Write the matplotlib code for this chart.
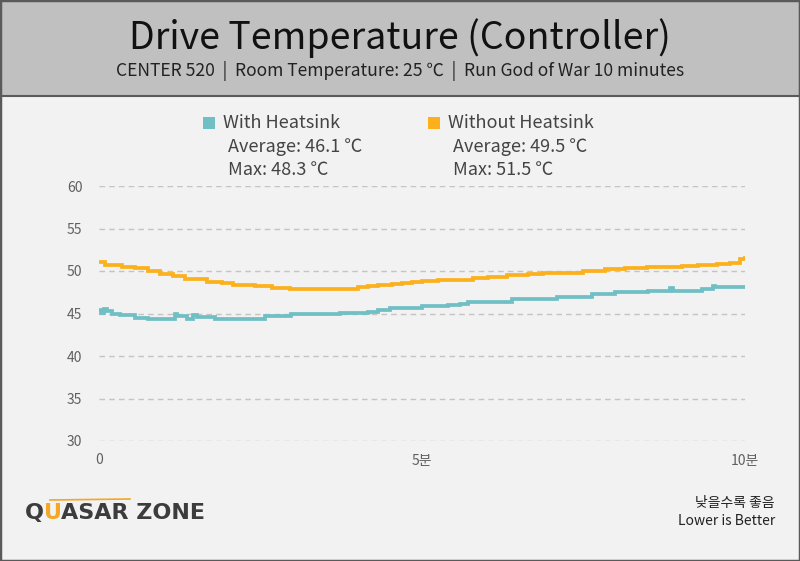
import matplotlib.pyplot as plt
from matplotlib.patches import Rectangle

plt.rcParams['font.family'] = ['Noto Sans CJK KR', 'DejaVu Sans']

# minutes where the reading changes, and the reading (deg C)
with_t = [0.0, 0.03, 0.07, 0.12, 0.2, 0.33, 0.56, 0.76, 1.18, 1.21, 1.36, 1.46, 1.52,
          1.8, 2.57, 2.97, 3.73, 4.16, 4.32, 4.5, 4.71, 5.0, 5.4, 5.59, 5.71, 6.05,
          6.39, 7.09, 7.63, 7.99, 8.5, 8.84, 8.88, 9.34, 9.5, 9.54, 10.0]
with_v = [45.4, 45.1, 45.5, 45.3, 45.0, 44.8, 44.5, 44.35, 44.95, 44.7, 44.4, 44.8, 44.6,
          44.4, 44.65, 44.9, 45.05, 45.2, 45.45, 45.6, 45.7, 45.85, 45.95, 46.1, 46.3, 46.4,
          46.65, 46.95, 47.25, 47.5, 47.7, 48.0, 47.7, 47.9, 48.2, 48.1, 48.1]

without_t = [0.0, 0.09, 0.36, 0.56, 0.76, 0.94, 1.15, 1.33, 1.67, 1.9, 2.07, 2.41, 2.68,
             2.96, 4.01, 4.16, 4.32, 4.54, 4.69, 4.85, 5.0, 5.25, 5.79, 6.02, 6.32, 6.64,
             6.87, 7.49, 7.83, 8.14, 8.48, 9.02, 9.27, 9.57, 9.77, 9.92, 10.0]
without_v = [51.1, 50.7, 50.5, 50.3, 50.0, 49.7, 49.45, 49.05, 48.75, 48.6, 48.35, 48.2, 48.0,
             47.85, 48.1, 48.25, 48.4, 48.5, 48.6, 48.7, 48.8, 49.0, 49.2, 49.3, 49.5, 49.65,
             49.75, 49.95, 50.2, 50.35, 50.45, 50.6, 50.75, 50.8, 50.95, 51.4, 51.5]

y_ticks = [30, 35, 40, 45, 50, 55, 60]
x_ticks = [0, 5, 10]
x_labels = ['0', '5분', '10분']

teal = '#6fbfc5'
orange = '#fbb01c'

fig = plt.figure(figsize=(8, 5.61), dpi=100, facecolor='#f2f2f2')

# header band + frame
fig.patches.append(Rectangle((0, 1 - 96 / 561), 1, 96 / 561, transform=fig.transFigure,
                             facecolor='#c0c0c0', edgecolor='#5a5a5a', lw=1.5, zorder=0))
fig.patches.append(Rectangle((0, 0), 1, 1, transform=fig.transFigure,
                             facecolor='none', edgecolor='#5a5a5a', lw=2.5, zorder=5))

fig.text(0.5, 1 - 38 / 561, 'Drive Temperature (Controller)', ha='center', va='center',
         fontsize=27, color='#111111')
fig.text(0.5, 1 - 71 / 561, 'CENTER 520  |  Room Temperature: 25 ℃  |  Run God of War 10 minutes',
         ha='center', va='center', fontsize=12.6, color='#222222')

ax = fig.add_axes([99 / 800, 1 - 441 / 561, 646 / 800, 255 / 561])
ax.set_facecolor('#f2f2f2')
ax.step(with_t, with_v, where='post', color=teal, lw=2.7, solid_joinstyle='miter')
ax.step(without_t, without_v, where='post', color=orange, lw=2.7, solid_joinstyle='miter')

ax.set_xlim(0, 10)
ax.set_ylim(30, 60)
ax.set_yticks(y_ticks)
ax.set_xticks(x_ticks)
ax.set_xticklabels(x_labels)
ax.yaxis.grid(True, color='#c4c4c4', linestyle=(0, (4, 3)), lw=1)
ax.set_axisbelow(True)
for s in ax.spines.values():
    s.set_visible(False)
ax.tick_params(length=0, labelsize=10, labelcolor='#606060')
ax.tick_params(axis='y', pad=12)
ax.tick_params(axis='x', pad=9)

# legend blocks
def legend_block(x, sq_color, name, avg, mx):
    fig.patches.append(Rectangle((x / 800, 1 - 129 / 561), 12 / 800, 12 / 561,
                                 transform=fig.transFigure, facecolor=sq_color, lw=0))
    fig.text((x + 20) / 800, 1 - 123 / 561, name, va='center', fontsize=13, color='#444444')
    fig.text((x + 25) / 800, 1 - 147 / 561, 'Average: %.1f ℃' % avg, va='center',
             fontsize=13, color='#444444')
    fig.text((x + 25) / 800, 1 - 170 / 561, 'Max: %.1f ℃' % mx, va='center',
             fontsize=13, color='#444444')

legend_block(203, teal, 'With Heatsink', 46.1, 48.3)
legend_block(428, orange, 'Without Heatsink', 49.5, 51.5)

# footer
fig.text(775 / 800, 1 - 503 / 561, '낮을수록 좋음', ha='right', va='center',
         fontsize=10, color='#222222')
fig.text(775 / 800, 1 - 521 / 561, 'Lower is Better', ha='right', va='center',
         fontsize=10, color='#222222')

logo_y = 1 - 513 / 561
fig.text(25 / 800, logo_y, 'Q', va='center', fontsize=16, fontweight='bold',
         color='#3c3c3e', family='DejaVu Sans')
fig.text(44 / 800, logo_y, 'U', va='center', fontsize=16, fontweight='bold',
         color='#f5a623', family='DejaVu Sans')
fig.text(61 / 800, logo_y, 'ASAR ZONE', va='center', fontsize=16, fontweight='bold',
         color='#3c3c3e', family='DejaVu Sans')
fig.lines.append(plt.Line2D([50 / 800, 130 / 800], [1 - 500 / 561, 1 - 499 / 561],
                            transform=fig.transFigure, color='#f5a623', lw=1.2))

fig.savefig('out.png', dpi=100, facecolor=fig.get_facecolor())
